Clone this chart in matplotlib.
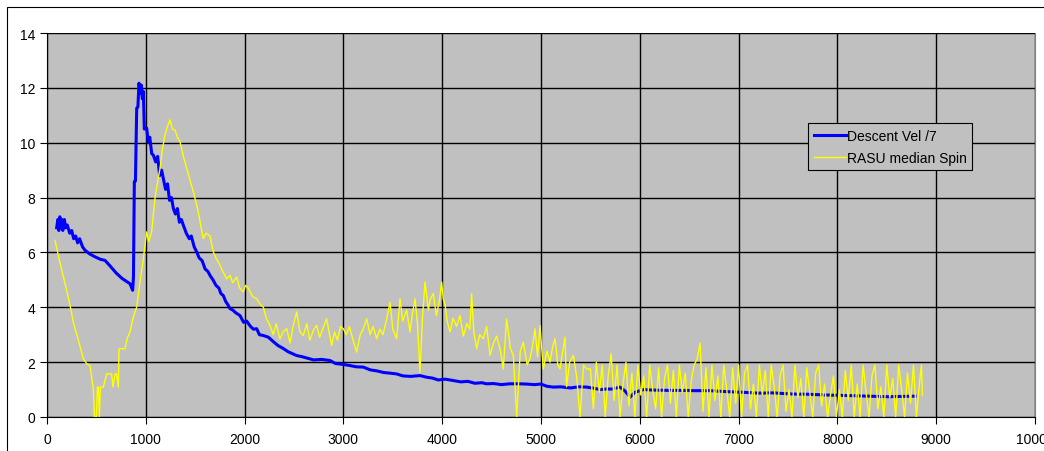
import matplotlib
matplotlib.use("Agg")
import matplotlib.pyplot as plt
from matplotlib.patches import Rectangle

plt.rcParams['font.family'] = ['Liberation Sans', 'DejaVu Sans']

# Descent Vel /7 (blue)
vel_x = [98, 110, 120, 130, 140, 150, 160, 175, 190, 205, 230, 250, 270, 290, 310, 330, 360, 385,
         430, 480, 540, 587, 640, 700, 760, 840, 867, 875, 884, 895, 908, 920, 931, 945, 955, 965,
         975, 985, 1009, 1025, 1040, 1060, 1076, 1100, 1120, 1140, 1160, 1177, 1200, 1220, 1240,
         1260, 1279, 1300, 1320, 1340, 1360, 1380, 1410, 1440, 1460, 1490, 1515, 1540, 1570, 1600,
         1630, 1650, 1680, 1710, 1740, 1760, 1784, 1810, 1830, 1852, 1880, 1910, 1953, 1990, 2020,
         2060, 2090, 2122, 2150, 2190, 2240, 2290, 2340, 2390, 2440, 2490, 2527, 2580, 2630, 2700,
         2780, 2864, 2920, 2990, 3060, 3130, 3201, 3270, 3340, 3410, 3470, 3539, 3600, 3680, 3775,
         3843, 3900, 3960, 4030, 4113, 4190, 4260, 4330, 4400, 4450, 4520, 4600, 4680, 4787, 4860,
         4930, 5000, 5060, 5124, 5200, 5300, 5380, 5462, 5530, 5600, 5664, 5720, 5799, 5850, 5901,
         5950, 6035, 6150, 6300, 6450, 6550, 6710, 6850, 7048, 7200, 7350, 7520, 7700, 7900, 8127,
         8300, 8500, 8650, 8785]
vel_y = [6.9, 7.2, 6.8, 7.3, 6.9, 7.2, 6.8, 7.2, 6.9, 7.0, 6.7, 6.8, 6.5, 6.6, 6.35, 6.5, 6.2, 6.08,
         5.95, 5.85, 5.75, 5.71, 5.5, 5.25, 5.05, 4.86, 4.62, 5.1, 8.58, 8.6, 11.26, 11.3, 12.17, 11.8,
         12.1, 11.6, 11.87, 10.5, 10.53, 10.0, 10.2, 9.6, 9.55, 9.3, 9.5, 8.8, 9.0, 8.7, 8.3, 8.5, 7.9,
         8.0, 7.6, 7.4, 7.6, 7.1, 7.2, 6.99, 6.7, 6.5, 6.6, 6.2, 6.02, 5.8, 5.7, 5.4, 5.3, 5.16, 5.0,
         4.8, 4.7, 4.5, 4.43, 4.2, 4.1, 3.95, 3.9, 3.8, 3.7, 3.45, 3.5, 3.3, 3.2, 3.22, 3.0, 2.97,
         2.91, 2.75, 2.6, 2.5, 2.38, 2.3, 2.24, 2.2, 2.15, 2.08, 2.1, 2.06, 1.95, 1.92, 1.88, 1.83,
         1.82, 1.72, 1.68, 1.62, 1.6, 1.57, 1.5, 1.48, 1.51, 1.45, 1.42, 1.35, 1.38, 1.33, 1.28, 1.3,
         1.23, 1.25, 1.21, 1.22, 1.18, 1.21, 1.21, 1.2, 1.18, 1.2, 1.12, 1.09, 1.1, 1.06, 1.1, 1.09,
         1.05, 1.0, 1.02, 1.02, 1.09, 0.95, 0.72, 0.9, 1.0, 0.98, 0.97, 0.97, 0.96, 0.96, 0.93, 0.9,
         0.87, 0.88, 0.84, 0.83, 0.8, 0.78, 0.76, 0.74, 0.75, 0.76]

# RASU median Spin (yellow)
spin_x = [81, 120, 160, 200, 233, 270, 310, 340, 368, 400, 435, 450, 469, 480, 500, 510, 520, 530,
          540, 570, 604, 630, 654, 668, 690, 705, 722, 729, 760, 789, 815, 840, 870, 908, 940, 975,
          1009, 1030, 1059, 1093, 1120, 1144, 1170, 1194, 1220, 1245, 1270, 1296, 1320, 1346, 1380,
          1414, 1450, 1481, 1510, 1531, 1560, 1582, 1610, 1650, 1683, 1710, 1751, 1780, 1819, 1852,
          1880, 1920, 1950, 1987, 2010, 2037, 2080, 2122, 2160, 2190, 2220,
          2240, 2257, 2290, 2320, 2358, 2390, 2426, 2460, 2490, 2527, 2560, 2594, 2630, 2660, 2700,
          2729, 2760, 2800, 2830, 2860, 2881, 2910, 2940, 2970, 2999, 3030, 3060, 3090, 3134, 3170,
          3200, 3236, 3270, 3300, 3337, 3370, 3400, 3440, 3472, 3500, 3539, 3573, 3600, 3640, 3674,
          3700, 3725, 3750, 3775, 3800, 3826, 3860, 3880, 3910, 3940, 3970, 3995, 4010, 4029, 4050,
          4079, 4110, 4146, 4180, 4214, 4250, 4280, 4298, 4320, 4349, 4380, 4416, 4450, 4484, 4520,
          4551, 4590, 4618, 4652, 4690, 4720, 4754, 4790, 4821, 4860, 4889, 4915, 4939, 4965, 4990,
          5023, 5060, 5091, 5120, 5142, 5170, 5192, 5220, 5243, 5259, 5290, 5327, 5360, 5395, 5430,
          5462,
          5500, 5530, 5560, 5590, 5620, 5650, 5680, 5710, 5740, 5770, 5800, 5830, 5860, 5890, 5920,
          5950, 5980, 6010, 6040, 6070, 6100, 6130, 6160, 6190, 6220, 6250, 6280, 6310, 6340, 6370,
          6400, 6430, 6460, 6490, 6520, 6550, 6580, 6610, 6640, 6670, 6700, 6730, 6760, 6790, 6820,
          6850, 6880, 6910, 6940, 6970, 7000, 7030, 7060, 7090, 7120, 7150, 7180, 7210, 7240, 7270,
          7300, 7330, 7360, 7390, 7420, 7450, 7480, 7510, 7540, 7570, 7600, 7630, 7660, 7690, 7720,
          7750, 7780, 7810, 7840, 7870, 7900, 7930, 7960, 7990, 8020, 8050, 8080, 8110, 8140, 8170,
          8200, 8230, 8260, 8290, 8320, 8350, 8380, 8410, 8440, 8470, 8500, 8530, 8560, 8590, 8620,
          8650, 8680, 8710, 8740, 8770, 8800, 8830, 8850, 8860]
spin_y = [6.44, 5.8, 5.2, 4.6, 4.07, 3.4, 2.9, 2.5, 2.12, 1.95, 1.88, 1.5, 1.02, 0.0, 0.0, 1.09,
          1.09, 0.0, 1.09, 1.09, 1.57, 1.57, 1.57, 1.09, 1.57, 1.57, 1.09, 2.49, 2.49, 2.49, 2.9, 3.1,
          3.6, 4.01, 4.9, 5.77, 6.75, 6.4, 6.75, 7.97, 8.6, 9.06, 9.8, 10.28, 10.6, 10.83, 10.5, 10.46,
          10.2, 10.04, 9.5, 9.06, 8.6, 8.21, 7.8, 7.48, 6.9, 6.51, 6.7, 6.6, 6.02, 5.8, 5.53, 5.3,
          5.04, 5.16, 4.9, 5.1, 4.7, 4.56, 4.8, 4.7, 4.4, 4.31, 4.1, 4.0, 3.6,
          3.46, 3.34, 3.0, 3.4, 2.85, 3.1, 3.22, 2.7, 3.3, 3.83, 3.1, 2.97, 3.4, 2.8, 3.2,
          3.34, 2.9, 3.3, 3.58, 3.0, 2.61, 3.1, 2.8, 3.3, 3.22, 3.0, 3.3, 2.9, 2.36, 3.0,
          3.2, 3.58, 3.0, 3.3, 2.85, 3.2, 3.0, 3.6, 4.19, 3.2, 2.85, 4.31, 3.5, 3.9, 3.1,
          3.8, 4.31, 3.4, 1.63, 3.6, 4.92, 3.9, 4.3, 4.5, 3.7, 4.2, 4.92, 4.3, 4.1, 3.5,
          3.1, 3.6, 3.3, 3.7, 2.95, 3.4, 3.2, 4.5, 3.1, 2.49, 3.0, 2.85, 3.3, 2.25, 2.7,
          2.95, 2.4, 1.75, 3.58, 2.5, 2.25, 0.0, 2.4, 2.73, 1.9, 2.13, 2.6, 3.22, 2.2, 3.34,
          1.75, 2.4, 2.0, 2.6, 2.85, 1.9, 1.75, 2.4, 2.91, 1.1, 2.0, 2.25, 1.5, 0.0, 1.9,
          1.75,
          1.75, 0.3, 2.0, 0.9, 1.9, 0.0, 1.5, 2.3, 0.6, 1.9, 0.0, 1.2, 2.0, 0.4, 1.6,
          0.0, 1.9, 0.8, 1.5, 0.0, 1.9, 1.0, 0.3, 1.8, 0.0, 1.4, 1.9, 0.5, 1.7, 0.0,
          1.9, 0.9, 1.6, 0.0, 1.3, 1.9, 2.1, 2.7, 0.2, 1.8, 0.0, 1.9, 0.6, 1.5, 0.0,
          1.9, 1.0, 0.0, 1.8, 0.5, 1.9, 0.0, 1.6, 1.9, 0.3, 1.2, 0.0, 1.9, 0.8, 1.7,
          0.0, 1.9, 1.1, 0.0, 1.5, 1.9, 0.2, 1.0, 0.0, 1.9, 0.7, 1.4, 0.0, 1.8, 0.9,
          0.0, 1.6, 1.9, 0.4, 1.2, 0.0, 0.8, 1.5, 0.0, 1.0, 0.0, 1.7, 0.6, 1.9, 0.0,
          1.2, 0.0, 1.9, 0.9, 0.0, 1.5, 1.9, 0.3, 1.1, 0.0, 1.9, 0.7, 1.4, 0.0, 1.9,
          1.0, 0.0, 1.6, 0.5, 1.9, 0.0, 1.2, 1.9, 0.8]

x_ticks = [0, 1000, 2000, 3000, 4000, 5000, 6000, 7000, 8000, 9000, 10000]
y_ticks = [0, 2, 4, 6, 8, 10, 12, 14]

fig = plt.figure(figsize=(10.44, 4.52), dpi=100)
fig.patches.append(Rectangle((7 / 1044, -0.2), 1.2, 0.2 + (452 - 8) / 452, transform=fig.transFigure,
                             fill=False, edgecolor='black', linewidth=0.8))

ax = fig.add_axes([47 / 1044, 34 / 452, (1035 - 47) / 1044, (418 - 34) / 452])
ax.set_facecolor('#C0C0C0')

ax.plot(vel_x, vel_y, color='#0000FF', linewidth=2.2, label='Descent Vel /7', zorder=3)
ax.plot(spin_x, spin_y, color='#FFFF00', linewidth=1.0, label='RASU median Spin', zorder=4)

ax.set_xlim(0, 10000)
ax.set_ylim(0, 14)
ax.set_xticks(x_ticks)
ax.set_yticks(y_ticks)
ax.grid(True, color='black', linewidth=1.0)
ax.set_axisbelow(True)
ax.tick_params(direction='out', length=5, width=0.8, labelsize=10, colors='black')
ax.spines['top'].set_visible(False)
ax.spines['right'].set_color('#808080')
ax.spines['left'].set_color('black')
ax.spines['bottom'].set_color('black')
ax.xaxis.set_tick_params(pad=6)

leg = ax.legend(loc='upper left', bbox_to_anchor=((808 - 47) / 988, (418 - 124) / 384),
                fontsize=10, frameon=True, fancybox=False, borderaxespad=0,
                handlelength=2.3, handletextpad=0.1, borderpad=0.4, labelspacing=0.6)
leg.get_frame().set_facecolor('#C0C0C0')
leg.get_frame().set_edgecolor('black')
leg.get_frame().set_linewidth(0.8)
leg.get_frame().set_alpha(1)

fig.savefig('out.png', dpi=100)
